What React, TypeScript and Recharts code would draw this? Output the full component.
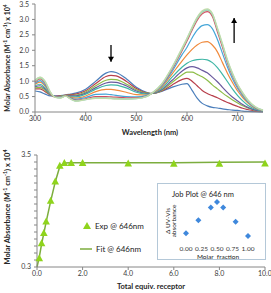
import React from "react";
import {
  LineChart,
  Line,
  XAxis,
  YAxis,
  ReferenceLine,
  ReferenceDot,
  ComposedChart,
  Scatter,
  ScatterChart,
  Legend,
} from "recharts";

const FONT = "Lato, 'Liberation Sans', sans-serif";
const AXIS = "#868686";
const TXT = "#3a3a3a";

// ---- top panel: titration spectra ----
const WAVELENGTHS = [300, 310, 320, 330, 340, 350, 360, 370, 380, 400, 420, 440, 450, 460, 480, 500, 520, 530, 550, 570, 590, 600, 610, 620, 630, 640, 650, 660, 670, 680, 690, 700, 710, 720, 735, 750];

const S1 = [0.68, 0.65, 0.58, 0.52, 0.52, 0.53, 0.55, 0.58, 0.61, 0.74, 1.0, 1.26, 1.31, 1.28, 1.08, 0.8, 0.64, 0.6, 0.67, 0.8, 0.9, 0.92, 0.7, 0.45, 0.28, 0.2, 0.15, 0.13, 0.1, 0.08, 0.06, 0.05, 0.03, 0.02, 0.01, 0];
const S2 = [0.75, 0.75, 0.66, 0.55, 0.51, 0.52, 0.55, 0.56, 0.58, 0.69, 0.92, 1.15, 1.19, 1.17, 1.0, 0.76, 0.62, 0.6, 0.68, 0.87, 1.05, 1.09, 1.0, 0.85, 0.7, 0.6, 0.53, 0.46, 0.38, 0.31, 0.24, 0.18, 0.12, 0.08, 0.03, 0.01];
const S3 = [0.78, 0.8, 0.7, 0.56, 0.5, 0.51, 0.54, 0.54, 0.55, 0.65, 0.85, 1.03, 1.06, 1.05, 0.91, 0.72, 0.61, 0.6, 0.7, 0.95, 1.2, 1.29, 1.29, 1.22, 1.14, 1.03, 0.88, 0.75, 0.62, 0.5, 0.39, 0.29, 0.2, 0.13, 0.05, 0.02];
const S4 = [0.82, 0.85, 0.74, 0.57, 0.5, 0.5, 0.54, 0.52, 0.52, 0.61, 0.79, 0.94, 0.97, 0.96, 0.85, 0.68, 0.6, 0.6, 0.72, 1.02, 1.32, 1.43, 1.47, 1.43, 1.35, 1.27, 1.13, 0.98, 0.8, 0.63, 0.48, 0.36, 0.24, 0.15, 0.06, 0.02];
const S5 = [0.85, 0.9, 0.78, 0.58, 0.5, 0.5, 0.53, 0.5, 0.49, 0.58, 0.74, 0.86, 0.88, 0.87, 0.78, 0.64, 0.58, 0.6, 0.76, 1.12, 1.45, 1.58, 1.66, 1.7, 1.71, 1.69, 1.6, 1.44, 1.22, 0.98, 0.74, 0.53, 0.36, 0.22, 0.09, 0.03];
const S6 = [0.9, 0.97, 0.84, 0.6, 0.49, 0.49, 0.53, 0.48, 0.45, 0.52, 0.66, 0.73, 0.73, 0.71, 0.64, 0.56, 0.55, 0.6, 0.8, 1.22, 1.65, 1.85, 2.03, 2.17, 2.26, 2.28, 2.17, 1.95, 1.6, 1.25, 0.95, 0.68, 0.47, 0.3, 0.12, 0.04];
const S7 = [0.93, 1.02, 0.88, 0.61, 0.49, 0.48, 0.52, 0.46, 0.41, 0.47, 0.57, 0.58, 0.56, 0.54, 0.5, 0.49, 0.53, 0.6, 0.84, 1.3, 1.85, 2.1, 2.4, 2.65, 2.8, 2.83, 2.7, 2.35, 1.9, 1.45, 1.07, 0.76, 0.52, 0.33, 0.13, 0.04];
const S8 = [0.97, 1.07, 0.93, 0.63, 0.48, 0.47, 0.52, 0.44, 0.38, 0.43, 0.5, 0.5, 0.49, 0.48, 0.46, 0.46, 0.51, 0.6, 0.87, 1.37, 1.98, 2.3, 2.65, 2.97, 3.18, 3.25, 3.1, 2.6, 2.1, 1.58, 1.17, 0.83, 0.57, 0.36, 0.14, 0.05];
const S9 = [1.0, 1.1, 0.96, 0.64, 0.48, 0.46, 0.52, 0.43, 0.36, 0.41, 0.46, 0.46, 0.45, 0.44, 0.43, 0.44, 0.5, 0.6, 0.89, 1.4, 2.02, 2.35, 2.7, 3.02, 3.23, 3.3, 3.15, 2.67, 2.16, 1.63, 1.2, 0.86, 0.59, 0.37, 0.15, 0.05];
const S10 = [1.02, 1.12, 0.98, 0.65, 0.47, 0.46, 0.51, 0.42, 0.35, 0.4, 0.45, 0.45, 0.44, 0.43, 0.42, 0.43, 0.5, 0.6, 0.9, 1.42, 2.05, 2.38, 2.73, 3.05, 3.26, 3.32, 3.18, 2.7, 2.19, 1.66, 1.23, 0.88, 0.61, 0.38, 0.16, 0.06];
const S11 = [1.03, 1.13, 1.0, 0.66, 0.47, 0.45, 0.51, 0.42, 0.35, 0.4, 0.44, 0.44, 0.43, 0.42, 0.42, 0.43, 0.5, 0.6, 0.91, 1.44, 2.07, 2.4, 2.75, 3.07, 3.28, 3.34, 3.2, 2.73, 2.22, 1.69, 1.26, 0.9, 0.63, 0.4, 0.17, 0.06];

const SPECTRA = [S1, S2, S3, S4, S5, S6, S7, S8, S9, S10, S11];
const SPECTRA_COLORS = ["#4a7ebb", "#b8404c", "#8dbd48", "#6a5a9e", "#3fb6a6", "#f08a3c", "#45a6d8", "#d24d66", "#a8d08a", "#96d2d8", "#c2dca8"];

const TOP_X_TICKS = [300, 400, 500, 600, 700];
const TOP_Y_TICKS = [0, 0.5, 1, 1.5, 2, 2.5, 3, 3.5];

// arrows: wavelength, start and end absorbance
const ARROWS = [
  { x: 450, from: 2.17, to: 1.63 },
  { x: 693, from: 2.24, to: 3.05 },
];

// ---- bottom panel: titration at 646 nm ----
const EXP_X = [0.1, 0.2, 0.3, 0.4, 0.6, 0.8, 1.0, 1.2, 1.5, 2.0, 4.0, 6.0, 8.0, 10.0];
const EXP_Y = [0.55, 0.98, 1.27, 1.6, 2.19, 2.74, 3.19, 3.27, 3.27, 3.27, 3.26, 3.25, 3.25, 3.26];
const FIT_X = [0, 0.1, 0.2, 0.3, 0.4, 0.6, 0.8, 1.0, 1.2, 1.5, 2.0, 4.0, 6.0, 8.0, 10.0];
const FIT_Y = [0.3, 0.58, 0.95, 1.27, 1.58, 2.18, 2.73, 3.17, 3.27, 3.28, 3.28, 3.28, 3.28, 3.29, 3.3];
const BOTTOM_X_TICKS = [0, 2, 4, 6, 8, 10];
const BOTTOM_Y_TICKS = [0.3, 0.5, 0.7, 0.9, 1.1, 1.3, 1.5, 1.7, 1.9, 2.1, 2.3, 2.5, 2.7, 2.9, 3.1, 3.3, 3.5];

// ---- inset: Job plot ----
const JOB_X = [0, 0.2, 0.4, 0.5, 0.6, 0.8, 1.0];
const JOB_Y = [0.08, 0.46, 0.84, 1.0, 0.84, 0.42, 0.0];
const JOB_TICKS = [0, 0.25, 0.5, 0.75, 1];

const EXP_COLOR = "#8fd41c";
const FIT_COLOR = "#7cad3e";
const JOB_COLOR = "#3f88dc";

const spectraData = WAVELENGTHS.map((w, i) => {
  const row: Record<string, number> = { w };
  SPECTRA.forEach((s, k) => (row["s" + k] = s[i]));
  return row;
});
const expData = EXP_X.map((x, i) => ({ x, y: EXP_Y[i] }));
const fitData = FIT_X.map((x, i) => ({ x, y: FIT_Y[i] }));
const jobData = JOB_X.map((x, i) => ({ x, y: JOB_Y[i] }));

const tickStyle = { fontSize: 7, fill: TXT, fontFamily: FONT };

const ArrowHead = (props: any) => {
  const { cx, cy, up } = props;
  const d = up ? -1 : 1;
  return <polygon points={`${cx - 3},${cy - 5 * d} ${cx + 3},${cy - 5 * d} ${cx},${cy}`} fill="#000" />;
};

const Triangle = (props: any) => {
  const { cx, cy } = props;
  return <polygon points={`${cx},${cy - 4} ${cx + 3.8},${cy + 3} ${cx - 3.8},${cy + 3}`} fill={EXP_COLOR} />;
};

const Diamond = (props: any) => {
  const { cx, cy } = props;
  return <polygon points={`${cx},${cy - 3} ${cx + 3},${cy} ${cx},${cy + 3} ${cx - 3},${cy}`} fill={JOB_COLOR} />;
};

const renderLegend = () => (
  <div style={{ fontFamily: FONT, fontSize: 8, color: "#222" }}>
    <div style={{ display: "flex", alignItems: "center", height: 12 }}>
      <svg width={14} height={10}>
        <polygon points="7,1 11,8 3,8" fill={EXP_COLOR} />
      </svg>
      <span style={{ marginLeft: 1 }}>Exp @ 646nm</span>
    </div>
    <div style={{ display: "flex", alignItems: "center", height: 12, marginTop: 11 }}>
      <svg width={14} height={10}>
        <line x1={0} y1={5} x2={12} y2={5} stroke={FIT_COLOR} strokeWidth={1.5} />
      </svg>
      <span style={{ marginLeft: 2 }}>Fit @ 646nm</span>
    </div>
  </div>
);

const yTitle = (
  <>
    Molar Absorbance (M<sup style={{ fontSize: "70%" }}>-1</sup> cm<sup style={{ fontSize: "70%" }}>-1</sup>) x 10
    <sup style={{ fontSize: "70%" }}>4</sup>
  </>
);

function RotatedTitle({ x, y, size, children }: { x: number; y: number; size: number; children: React.ReactNode }) {
  return (
    <div
      style={{
        position: "absolute",
        left: x,
        top: y,
        transform: "translate(-50%, -50%) rotate(-90deg)",
        whiteSpace: "nowrap",
        fontWeight: "bold",
        fontSize: size,
        color: "#262626",
        lineHeight: 1,
      }}
    >
      {children}
    </div>
  );
}

export default function App() {
  return (
    <div
      style={{
        position: "absolute",
        left: 0,
        top: 0,
        width: 271,
        height: 293,
        background: "#fff",
        fontFamily: FONT,
        overflow: "hidden",
      }}
    >
      <div style={{ position: "absolute", left: 0, top: 0 }}>
        <LineChart width={271} height={140} data={spectraData} margin={{ top: 4, right: 8, bottom: 0, left: 0 }}>
          <XAxis
            dataKey="w"
            type="number"
            domain={[300, 750]}
            ticks={TOP_X_TICKS}
            height={28}
            stroke={AXIS}
            tick={tickStyle}
            tickSize={3}
            tickMargin={1}
          />
          <YAxis
            domain={[0, 3.5]}
            ticks={TOP_Y_TICKS}
            width={35}
            stroke={AXIS}
            tick={tickStyle}
            tickSize={3}
            tickMargin={3}
            tickFormatter={(v: number) => v.toFixed(1)}
          />
          {SPECTRA.map((_, k) => (
            <Line
              key={k}
              dataKey={"s" + k}
              type="monotone"
              stroke={SPECTRA_COLORS[k]}
              strokeWidth={1.2}
              dot={false}
              isAnimationActive={false}
            />
          ))}
          {ARROWS.map((a, i) => (
            <ReferenceLine
              key={"l" + i}
              segment={[
                { x: a.x, y: a.from },
                { x: a.x, y: a.to },
              ]}
              stroke="#000"
              strokeWidth={1.3}
            />
          ))}
          {ARROWS.map((a, i) => (
            <ReferenceDot
              key={"d" + i}
              x={a.x}
              y={a.to}
              r={3}
              shape={(p: any) => <ArrowHead {...p} up={a.to > a.from} />}
            />
          ))}
        </LineChart>
      </div>
      <RotatedTitle x={7} y={58} size={7}>
        {yTitle}
      </RotatedTitle>
      <div
        style={{
          position: "absolute",
          left: 150,
          top: 132,
          transform: "translate(-50%, -50%)",
          fontWeight: "bold",
          fontSize: 7.5,
          color: "#262626",
          whiteSpace: "nowrap",
        }}
      >
        Wavelength (nm)
      </div>

      <div style={{ position: "absolute", left: 0, top: 140 }}>
        <ComposedChart width={271} height={153} margin={{ top: 15, right: 6, bottom: 0, left: 0 }}>
          <XAxis
            dataKey="x"
            type="number"
            domain={[0, 10]}
            ticks={BOTTOM_X_TICKS}
            height={26}
            stroke={AXIS}
            tick={tickStyle}
            tickSize={3}
            tickMargin={1}
            tickFormatter={(v: number) => v.toFixed(1)}
          />
          <YAxis
            dataKey="y"
            type="number"
            domain={[0.3, 3.5]}
            ticks={BOTTOM_Y_TICKS}
            width={37}
            stroke={AXIS}
            tick={tickStyle}
            tickSize={3}
            tickMargin={3}
            interval={0}
            tickFormatter={(v: number) => (v === 0.3 || v === 3.5 ? v.toFixed(1) : "")}
          />
          <Line
            data={fitData}
            dataKey="y"
            type="linear"
            stroke={FIT_COLOR}
            strokeWidth={1.5}
            dot={false}
            isAnimationActive={false}
          />
          <Scatter data={expData} dataKey="y" shape={Triangle} isAnimationActive={false} />
          <Legend
            layout="vertical"
            align="center"
            verticalAlign="middle"
            content={renderLegend}
            wrapperStyle={{ left: 80, top: 80, width: "auto" }}
          />
        </ComposedChart>
      </div>
      <RotatedTitle x={7} y={207} size={7.5}>
        {yTitle}
      </RotatedTitle>
      <div
        style={{
          position: "absolute",
          left: 151,
          top: 286,
          transform: "translate(-50%, -50%)",
          fontWeight: "bold",
          fontSize: 7.5,
          color: "#262626",
          whiteSpace: "nowrap",
        }}
      >
        Total equiv. receptor
      </div>

      {/* Job plot inset */}
      <div
        style={{
          position: "absolute",
          left: 157,
          top: 183,
          width: 109,
          height: 77,
          boxSizing: "border-box",
          border: "1px solid #b4c8d8",
          background: "#fff",
        }}
      >
        <div style={{ position: "absolute", left: -1, top: -1 }}>
          <ScatterChart width={109} height={77} margin={{ top: 19, right: 18, bottom: 0, left: 29 }}>
            <XAxis
              dataKey="x"
              type="number"
              domain={[0, 1]}
              ticks={JOB_TICKS}
              height={24}
              axisLine={false}
              tickLine={false}
              tickSize={6}
              tickMargin={4}
              interval={0}
              tick={{ fontSize: 6.5, fill: TXT, fontFamily: FONT }}
              tickFormatter={(v: number) => v.toFixed(2)}
            />
            <YAxis dataKey="y" type="number" domain={[0, 1]} hide />
            <Scatter data={jobData} shape={Diamond} isAnimationActive={false} />
          </ScatterChart>
        </div>
        <div
          style={{
            position: "absolute",
            left: 45,
            top: 10,
            transform: "translate(-50%, -50%)",
            fontSize: 7.5,
            color: "#222",
            whiteSpace: "nowrap",
          }}
        >
          Job Plot @ 646 nm
        </div>
        <div
          style={{
            position: "absolute",
            left: 13,
            top: 37,
            transform: "translate(-50%, -50%) rotate(-90deg)",
            fontSize: 6.5,
            lineHeight: "6px",
            color: "#222",
            whiteSpace: "nowrap",
            textAlign: "center",
          }}
        >
          Δ UV-Vis
          <br />
          absorbance
        </div>
        <div
          style={{
            position: "absolute",
            left: 60,
            top: 72,
            transform: "translate(-50%, -50%)",
            fontSize: 6.5,
            color: "#222",
            whiteSpace: "nowrap",
          }}
        >
          Molar&nbsp;&nbsp;fraction
        </div>
      </div>
    </div>
  );
}
